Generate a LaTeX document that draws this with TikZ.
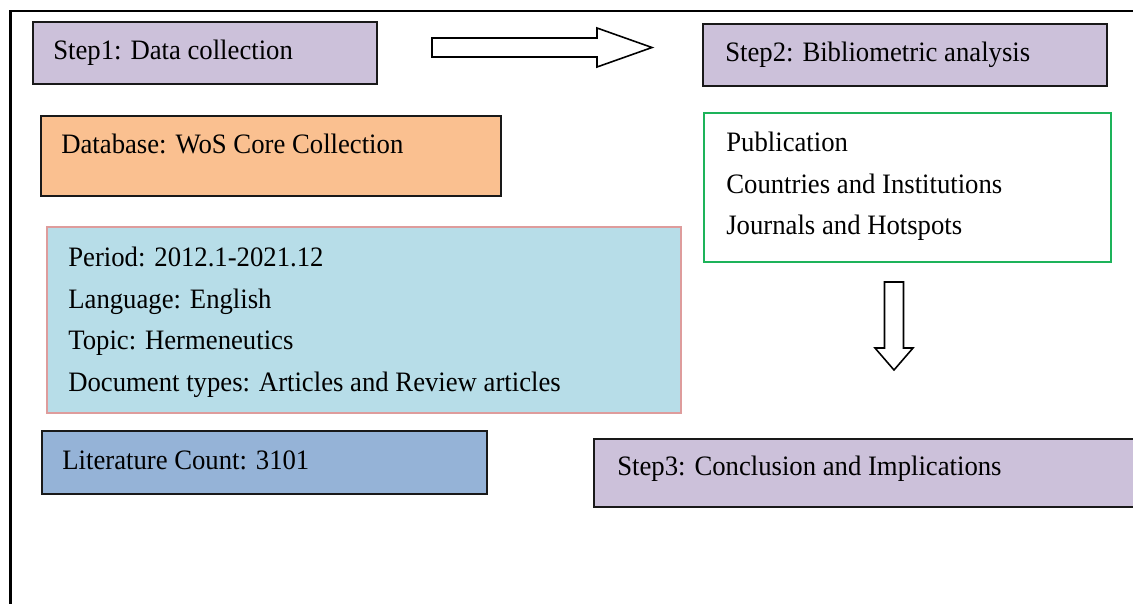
\documentclass[tikz,border=0pt]{standalone}
\usepackage{fontspec}
\setmainfont{Liberation Serif}[FakeStretch=0.95]
\usepackage{tikz}

\definecolor{stepfill}{HTML}{CCC1DA}
\definecolor{dbfill}{HTML}{FAC090}
\definecolor{critfill}{HTML}{B7DDE8}
\definecolor{critline}{HTML}{DE9C9C}
\definecolor{cntfill}{HTML}{95B3D7}
\definecolor{resline}{HTML}{1DB35A}

\begin{document}
\begin{tikzpicture}[x=0.02cm, y=-0.02cm,
		box/.style={draw=black!90, line width=1pt, inner sep=0pt},
		txt/.style={anchor=base west, inner sep=0pt, font=\fontsize{16}{20}\selectfont},
		blockarrow/.style={draw=black, line width=0.9pt, fill=white, line join=miter}]
		\useasboundingbox (0,0) rectangle (1133,603);
		\clip (0,0) rectangle (1133,603);
		% outer frame, only left and top edges show
		\draw [line width=1.2pt] (10.5,640) -- (10.5,11) -- (1160,11);

		% left column: data collection
		\node [box, fill=stepfill, minimum width=6.88cm, minimum height=1.24cm] (s1) at (205,53) {};
		\node [txt] (s1t) at (53,59) {Step1: Data collection};
		\node [box, fill=dbfill, minimum width=9.2cm, minimum height=1.6cm] (db) at (271,156) {};
		\node [txt] (dbt) at (61,153) {Database: WoS Core Collection};
		\node [box, draw=critline, fill=critfill, minimum width=12.68cm, minimum height=3.72cm] (crit) at (364,320) {};
		\node [txt] (c1) at (68,266) {Period: 2012.1-2021.12};
		\node [txt] (c2) at (68,308) {Language: English};
		\node [txt] (c3) at (68,349) {Topic: Hermeneutics};
		\node [txt] (c4) at (68,391) {Document types: Articles and Review articles};
		\node [box, fill=cntfill, minimum width=8.9cm, minimum height=1.26cm] (cnt) at (264.5,462.5) {};
		\node [txt] (cntt) at (62,469) {Literature Count: 3101};

		% right column: analysis
		\node [box, fill=stepfill, minimum width=8.08cm, minimum height=1.24cm] (s2) at (905,55) {};
		\node [txt] (s2t) at (725,61) {Step2: Bibliometric analysis};
		\node [box, draw=resline, fill=white, minimum width=8.14cm, minimum height=2.98cm] (res) at (907.5,187.5) {};
		\node [txt] (r1) at (726,151) {Publication};
		\node [txt] (r2) at (726,193) {Countries and Institutions};
		\node [txt] (r3) at (726,234) {Journals and Hotspots};
		\node [box, fill=stepfill, minimum width=11.32cm, minimum height=1.36cm] (s3) at (877,473) {};
		\node [txt] (s3t) at (617,475) {Step3: Conclusion and Implications};

		% block arrows
		\coordinate (ra) at (432,47.5);
		\draw [blockarrow] (ra) ++(0,-9.5) -- ++(165,0) -- ++(0,-10) -- ++(55,19.5) -- ++(-55,19.5) -- ++(0,-10) -- ++(-165,0) -- cycle;
		\coordinate (da) at (894,282);
		\draw [blockarrow] (da) ++(-9.5,0) -- ++(0,66) -- ++(-9.5,0) -- ++(19,22) -- ++(19,-22) -- ++(-9.5,0) -- ++(0,-66) -- cycle;
	\end{tikzpicture}
\end{document}
